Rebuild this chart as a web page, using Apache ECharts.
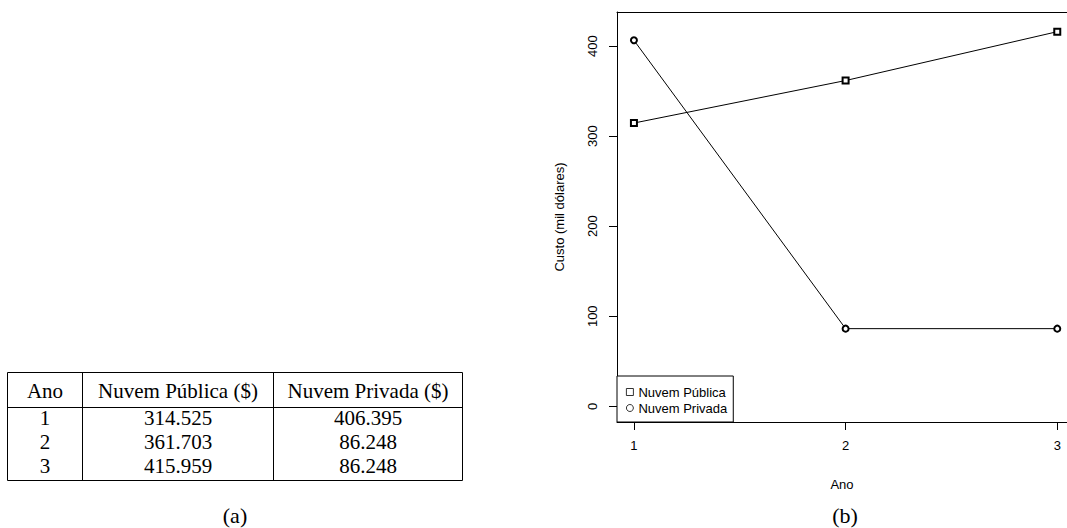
<!DOCTYPE html>
<html>
<head>
<meta charset="utf-8">
<script src="https://cdn.jsdelivr.net/npm/echarts@6/dist/echarts.min.js"></script>
<style>
html,body{margin:0;padding:0;background:#fff;}
#chart{width:1067px;height:528px;}
</style>
</head>
<body>
<div id="chart"></div>
<script>
const years = [1, 2, 3];
const publica = [314.525, 361.703, 415.959];
const privada = [406.395, 86.248, 86.248];
const seriesNames = ['Nuvem Pública', 'Nuvem Privada'];
const tableHeaders = ['Ano', 'Nuvem Pública ($)', 'Nuvem Privada ($)'];
const xTicks = [1, 2, 3];
const yTicks = [0, 100, 200, 300, 400];

const chart = echarts.init(document.getElementById('chart'), null, {renderer: 'svg'});

// table layout (positions only)
const colX = [7.5, 82.5, 273.5, 462.5];
const tTop = 372.5, tHead = 407.5, tBottom = 480.5;
const headerY = 391;
const rowY = [418, 442, 466];
const serif = '"Liberation Serif", "DejaVu Serif", serif';

const tableEls = [];
tableEls.push({type: 'rect', shape: {x: colX[0], y: tTop, width: colX[3] - colX[0], height: tBottom - tTop},
  style: {fill: 'none', stroke: '#000', lineWidth: 1}});
tableEls.push({type: 'line', shape: {x1: colX[0], y1: tHead, x2: colX[3], y2: tHead}, style: {stroke: '#000', lineWidth: 1}});
[1, 2].forEach(i => tableEls.push({type: 'line', shape: {x1: colX[i], y1: tTop, x2: colX[i], y2: tBottom}, style: {stroke: '#000', lineWidth: 1}}));
const colCenter = i => (colX[i] + colX[i + 1]) / 2;
tableHeaders.forEach((h, i) => tableEls.push({type: 'text', x: colCenter(i), y: headerY,
  style: {text: h, font: '21px ' + serif, fill: '#000', textAlign: 'center', textVerticalAlign: 'middle'}}));
years.forEach((yr, r) => {
  const vals = [String(yr), publica[r].toFixed(3), privada[r].toFixed(3)];
  vals.forEach((v, i) => tableEls.push({type: 'text', x: colCenter(i), y: rowY[r],
    style: {text: v, font: '21px ' + serif, fill: '#000', textAlign: 'center', textVerticalAlign: 'middle'}}));
});
tableEls.push({type: 'text', x: 235, y: 515, style: {text: '(a)', font: '22px ' + serif, fill: '#000', textAlign: 'center', textVerticalAlign: 'middle'}});
tableEls.push({type: 'text', x: 845, y: 515, style: {text: '(b)', font: '22px ' + serif, fill: '#000', textAlign: 'center', textVerticalAlign: 'middle'}});

const sans = '"Liberation Sans", Arial, sans-serif';
const xMin = 0.92, xMax = 3.046;

chart.setOption({
  animation: false,
  backgroundColor: '#fff',
  grid: {left: 617, top: 12, right: 0, bottom: 106, show: false},
  xAxis: [{
    type: 'value', min: xMin, max: xMax, position: 'bottom',
    name: 'Ano', nameLocation: 'middle', nameGap: 56,
    nameTextStyle: {fontFamily: sans, fontSize: 13, color: '#000'},
    axisLine: {show: true, onZero: false, lineStyle: {color: '#000', width: 1}},
    splitLine: {show: false},
    axisTick: {show: true, length: 8, lineStyle: {color: '#000'}, customValues: xTicks},
    axisLabel: {customValues: xTicks, margin: 17, fontFamily: sans, fontSize: 13, color: '#000'}
  }, {
    type: 'value', min: xMin, max: xMax, position: 'top',
    axisLine: {show: true, onZero: false, lineStyle: {color: '#000', width: 1}},
    splitLine: {show: false}, axisTick: {show: false}, axisLabel: {show: false}
  }],
  yAxis: {
    type: 'value', min: -17.4, max: 437.8,
    name: 'Custo (mil dólares)', nameLocation: 'middle', nameGap: 51, nameRotate: 90,
    nameTextStyle: {fontFamily: sans, fontSize: 13, color: '#000'},
    axisLine: {show: true, onZero: false, lineStyle: {color: '#000', width: 1}},
    splitLine: {show: false},
    axisTick: {show: true, length: 8, lineStyle: {color: '#000'}, customValues: yTicks},
    axisLabel: {customValues: yTicks, rotate: 90, margin: 18, fontFamily: sans, fontSize: 13, color: '#000'}
  },
  legend: {
    left: 617, bottom: 106, orient: 'vertical',
    backgroundColor: '#fff', borderColor: '#000', borderWidth: 1,
    padding: [9, 6, 7, 9], itemGap: 2, itemWidth: 7, itemHeight: 7,
    itemStyle: {color: '#fff', borderColor: '#000', borderWidth: 0.8},
    textStyle: {fontFamily: sans, fontSize: 13, color: '#000', lineHeight: 14},
    data: [{name: seriesNames[0], icon: 'rect'}, {name: seriesNames[1], icon: 'circle'}]
  },
  series: [
    {name: seriesNames[0], type: 'line', xAxisIndex: 0, data: years.map((x, i) => [x, publica[i]]),
      symbol: 'emptyRect', symbolSize: 6, color: '#000', lineStyle: {color: '#000', width: 1},
      itemStyle: {color: '#000', borderColor: '#000', borderWidth: 0.8}},
    {name: seriesNames[1], type: 'line', xAxisIndex: 0, data: years.map((x, i) => [x, privada[i]]),
      symbol: 'emptyCircle', symbolSize: 6, color: '#000', lineStyle: {color: '#000', width: 1},
      itemStyle: {color: '#000', borderColor: '#000', borderWidth: 0.8}}
  ],
  graphic: tableEls
});
</script>
</body>
</html>
